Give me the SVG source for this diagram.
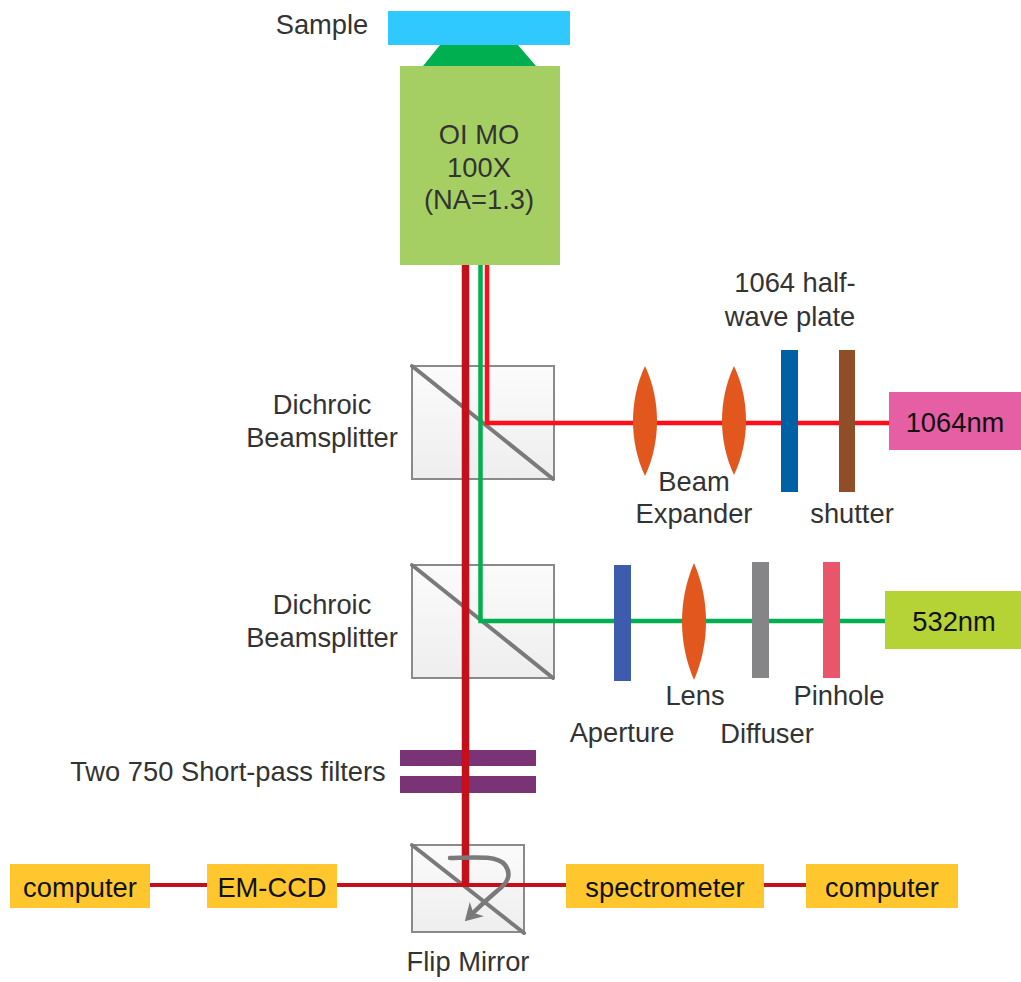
<svg xmlns="http://www.w3.org/2000/svg" width="1021" height="982" viewBox="0 0 1021 982">
<defs>
<linearGradient id="cube" x1="0" y1="0" x2="0" y2="1"><stop offset="0" stop-color="#fbfbfb"/><stop offset="1" stop-color="#eeeeee"/></linearGradient>
<marker id="flip" markerUnits="userSpaceOnUse" markerWidth="26" markerHeight="26" refX="4" refY="13" orient="auto"><path d="M0 3L17 13L0 23L5 13Z" fill="#7a7a7a"/></marker>
</defs>
<style>
text{font-family:"Liberation Sans",Arial,sans-serif;font-size:27.3px;fill:#333333;text-anchor:middle}
.cube{fill:url(#cube);stroke:#8a8a8a;stroke-width:2}
.diag{stroke:#7a7a7a;stroke-width:4;stroke-linecap:round}
.yellow{fill:#ffc62e}
.lens{fill:#e2571e}
.c{fill:none}
</style>
<rect width="1021" height="982" fill="#ffffff"/>
<g id="cube1"><rect class="cube" x="412" y="366" width="142" height="113"/><line class="diag" x1="412" y1="366" x2="553" y2="479"/></g>
<g id="cube2"><rect class="cube" x="412" y="565" width="142" height="113"/><line class="diag" x1="412" y1="565" x2="553" y2="678"/></g>
<g id="cube3"><rect class="cube" x="412" y="845" width="112" height="87"/><line class="diag" x1="412" y1="845" x2="524" y2="933"/></g>
<g id="filters"><rect x="400" y="750" width="136" height="16" fill="#7a3374"/><rect x="400" y="776" width="136" height="17" fill="#7a3374"/><text x="228" y="781">Two 750 Short-pass filters</text></g>
<g id="connectors" class="c">
<path d="M150 885H207M337 885H566M764 885H806" stroke="#c4101a" stroke-width="4"/>
<path d="M465.500 265V885" stroke="#c4101a" stroke-width="7.500"/>
<path d="M487 265V423H889" stroke="#ff0d1a" stroke-width="4.500"/>
<path d="M480.500 265V621H885" stroke="#00b050" stroke-width="4.500"/>
<path d="M450 858C480 857 498 856 505 865C512 874 508 883 497 891C490 897 484 902 474 912" stroke="#7a7a7a" stroke-width="4.500" stroke-linecap="round" marker-end="url(#flip)"/>
</g>
<g id="sample"><rect x="388" y="11" width="182" height="34" fill="#2fc8ff"/><text x="322" y="34">Sample</text></g>
<g id="tip"><polygon points="440,45 518,45 536,66 423,66" fill="#00b050"/></g>
<g id="objective"><rect x="400" y="66" width="160" height="199" fill="#a6cf63"/><text x="479" y="144">OI MO</text><text x="479" y="177">100X</text><text x="479" y="209">(NA=1.3)</text></g>
<g id="label-db1"><text x="322" y="414">Dichroic</text><text x="322" y="447">Beamsplitter</text></g>
<g id="label-db2"><text x="322" y="614">Dichroic</text><text x="322" y="647">Beamsplitter</text></g>
<g id="lens1"><path class="lens" d="M645 366C661 400 661 442 645 476C629 442 629 400 645 366Z"/></g>
<g id="lens2"><path class="lens" d="M734 366C750 400 750 441 734 475C718 441 718 400 734 366Z"/></g>
<g id="label-expander"><text x="694" y="491">Beam</text><text x="694" y="523">Expander</text></g>
<g id="halfwave"><rect x="781" y="350" width="17" height="142" fill="#0060a4"/><text x="795" y="292">1064 half-</text><text x="790" y="326">wave plate</text></g>
<g id="shutter"><rect x="839" y="350" width="16" height="142" fill="#8f4e28"/><text x="852" y="523">shutter</text></g>
<g id="laser1064"><rect x="889" y="392" width="132" height="58" fill="#e65ea3"/><text x="955" y="432" style="fill:#111">1064nm</text></g>
<g id="aperture"><rect x="614" y="565" width="17" height="116" fill="#3d5cae"/><text x="622" y="742">Aperture</text></g>
<g id="lens3"><path class="lens" d="M694 563C710 600 710 643 694 680C678 643 678 600 694 563Z"/><text x="695" y="705">Lens</text></g>
<g id="diffuser"><rect x="752" y="562" width="17" height="116" fill="#858587"/><text x="767" y="743">Diffuser</text></g>
<g id="pinhole"><rect x="823" y="562" width="17" height="116" fill="#ea556c"/><text x="839" y="705">Pinhole</text></g>
<g id="laser532"><rect x="885" y="591" width="136" height="58" fill="#b5d334"/><text x="954" y="631" style="fill:#111">532nm</text></g>
<g id="computer1"><rect class="yellow" x="10" y="864" width="140" height="44"/><text x="80" y="897" style="fill:#111">computer</text></g>
<g id="emccd"><rect class="yellow" x="207" y="864" width="130" height="44"/><text x="272" y="897" style="fill:#111">EM-CCD</text></g>
<g id="spectrometer"><rect class="yellow" x="566" y="864" width="198" height="44"/><text x="665" y="897" style="fill:#111">spectrometer</text></g>
<g id="computer2"><rect class="yellow" x="806" y="864" width="152" height="44"/><text x="882" y="897" style="fill:#111">computer</text></g>
<g id="label-flip"><text x="468" y="971">Flip Mirror</text></g>
</svg>
